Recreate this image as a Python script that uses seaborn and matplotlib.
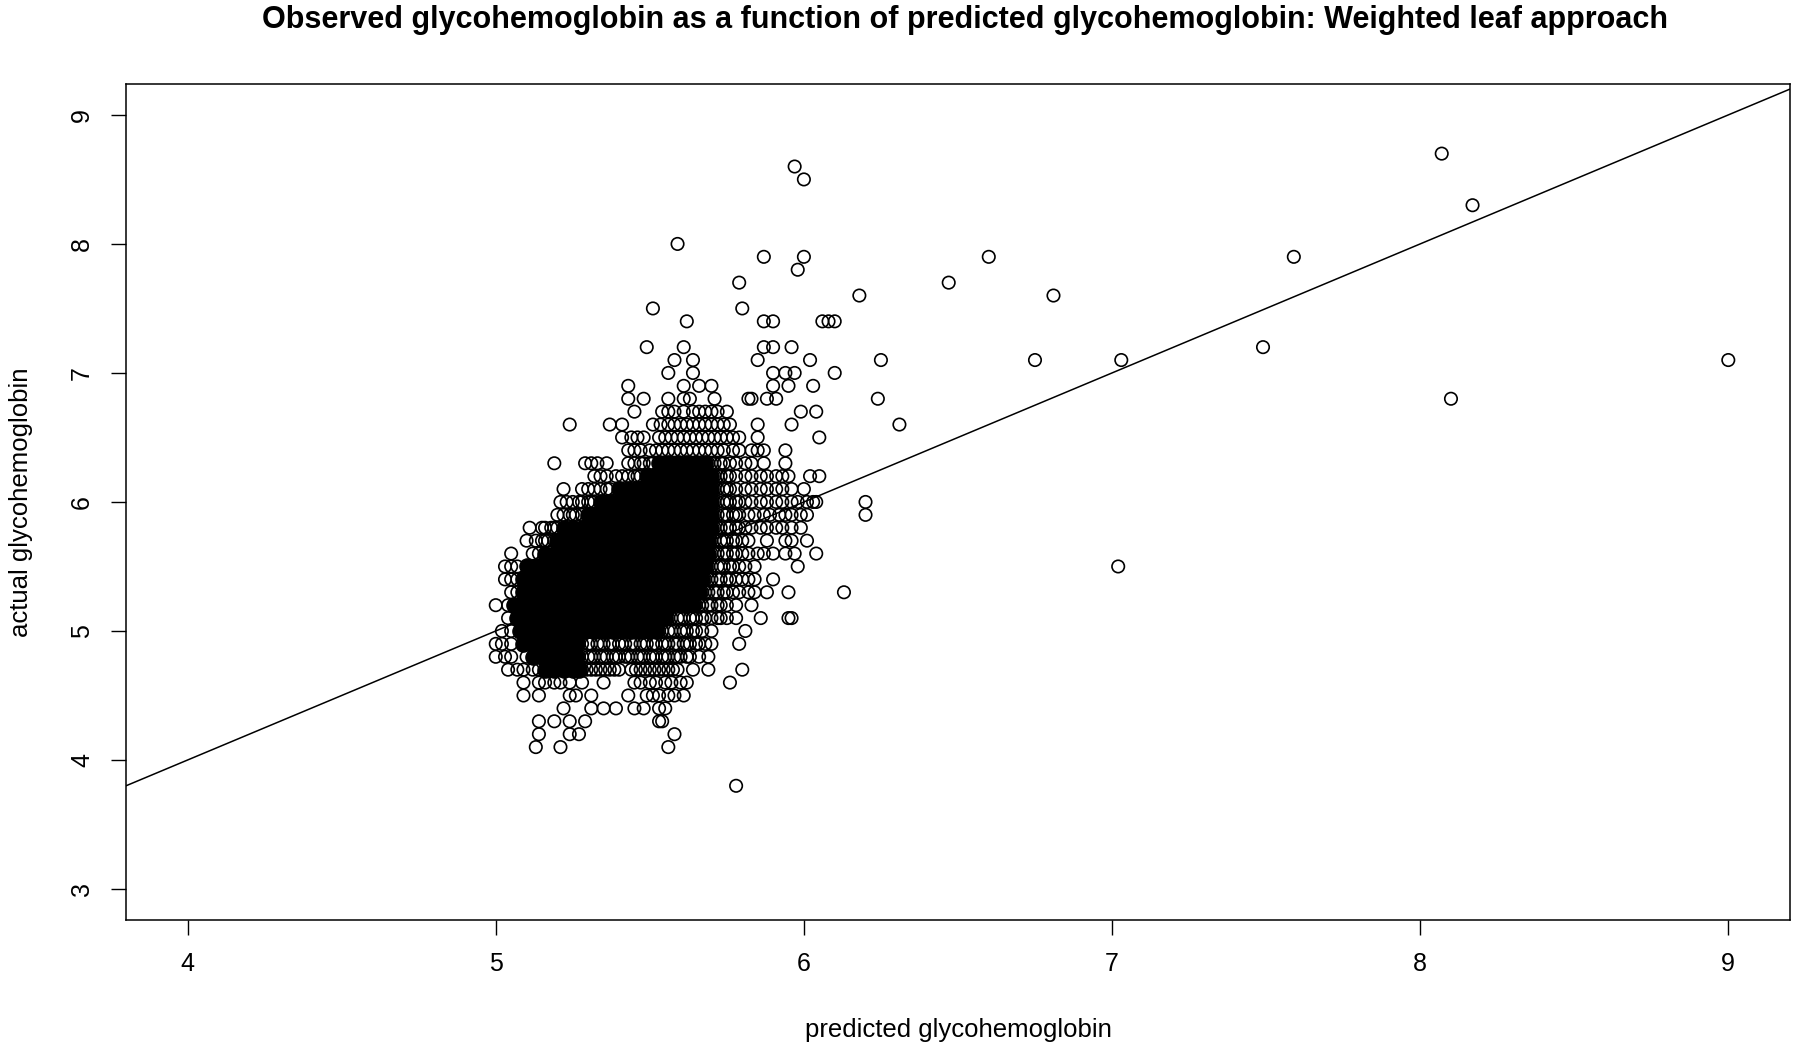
import pandas as pd
import seaborn as sns
import matplotlib
matplotlib.use('Agg')
import matplotlib.pyplot as plt

TITLE = 'Observed glycohemoglobin as a function of predicted glycohemoglobin: Weighted leaf approach'
X_LABEL = 'predicted glycohemoglobin'
Y_LABEL = 'actual glycohemoglobin'

x_ticks = [4, 5, 6, 7, 8, 9]
y_ticks = [3, 4, 5, 6, 7, 8, 9]

# reference line y = x
fit_intercept = 0.0
fit_slope = 1.0

# hollow points, one list per observed level (x = predicted)
r38 = [5.78]
r41 = [5.13, 5.21, 5.56]
r42 = [5.14, 5.24, 5.27, 5.58]
r43 = [5.14, 5.19, 5.24, 5.29, 5.53, 5.54]
r44 = [5.22, 5.31, 5.35, 5.39, 5.45, 5.48, 5.53, 5.55]
r45 = [5.09, 5.14, 5.24, 5.26, 5.31, 5.43, 5.49, 5.51, 5.53, 5.56, 5.58, 5.61]
r46 = [5.09, 5.14, 5.16, 5.19, 5.21, 5.24, 5.28, 5.35, 5.45, 5.47, 5.50, 5.52,
       5.55, 5.57, 5.60, 5.62, 5.76]
r47 = [5.04, 5.07, 5.09, 5.12, 5.14, 5.28, 5.295, 5.31, 5.325, 5.34, 5.355, 5.37,
       5.385, 5.40, 5.44, 5.455, 5.47, 5.485, 5.50, 5.515, 5.53, 5.545, 5.56, 5.575,
       5.59, 5.64, 5.69, 5.80]
r48 = [5.00, 5.03, 5.05, 5.10, 5.27, 5.28, 5.30, 5.31, 5.32, 5.34, 5.35, 5.36,
       5.38, 5.39, 5.40, 5.42, 5.43, 5.44, 5.46, 5.47, 5.48, 5.50, 5.51, 5.52,
       5.54, 5.55, 5.56, 5.58, 5.59, 5.60, 5.62, 5.63, 5.66, 5.69]
r49 = [5.00, 5.02, 5.05, 5.27, 5.28, 5.30, 5.31, 5.33, 5.34, 5.35, 5.37, 5.38,
       5.40, 5.41, 5.42, 5.44, 5.45, 5.47, 5.48, 5.49, 5.51, 5.52, 5.54, 5.55,
       5.56, 5.58, 5.59, 5.61, 5.62, 5.63, 5.65, 5.66, 5.68, 5.70, 5.79]
r50 = [5.02, 5.05, 5.53, 5.54, 5.56, 5.57, 5.58, 5.60, 5.61, 5.62, 5.64, 5.65,
       5.67, 5.70, 5.81]
r51 = [5.04, 5.56, 5.57, 5.59, 5.60, 5.61, 5.63, 5.64, 5.65, 5.67, 5.68, 5.70,
       5.72, 5.73, 5.75, 5.78, 5.86, 5.95, 5.96]
r52 = [5.00, 5.04, 5.65, 5.66, 5.67, 5.69, 5.70, 5.72, 5.73, 5.75, 5.78, 5.83]
r53 = [5.05, 5.07, 5.67, 5.68, 5.69, 5.71, 5.72, 5.74, 5.75, 5.77, 5.79, 5.82,
       5.84, 5.88, 5.95, 6.13]
r54 = [5.03, 5.05, 5.07, 5.68, 5.69, 5.70, 5.72, 5.73, 5.75, 5.76, 5.78, 5.80,
       5.82, 5.84, 5.90]
r55 = [5.03, 5.05, 5.07, 5.69, 5.70, 5.72, 5.73, 5.74, 5.76, 5.77, 5.79, 5.81,
       5.84, 5.98, 7.02]
r56 = [5.05, 5.12, 5.14, 5.70, 5.71, 5.72, 5.74, 5.75, 5.77, 5.78, 5.80, 5.82,
       5.85, 5.87, 5.90, 5.94, 5.97, 6.04]
r57 = [5.10, 5.13, 5.15, 5.16, 5.17, 5.19, 5.70, 5.71, 5.73, 5.74, 5.75, 5.77,
       5.78, 5.80, 5.82, 5.88, 5.94, 5.96, 6.01]
r58 = [5.11, 5.15, 5.16, 5.18, 5.19, 5.20, 5.71, 5.72, 5.73, 5.75, 5.76, 5.78,
       5.79, 5.81, 5.83, 5.86, 5.88, 5.91, 5.93, 5.96, 5.99]
r59 = [5.20, 5.22, 5.24, 5.25, 5.26, 5.28, 5.71, 5.72, 5.74, 5.75, 5.77, 5.78,
       5.79, 5.82, 5.84, 5.87, 5.89, 5.92, 5.94, 5.96, 5.99, 6.01, 6.20]
r60 = [5.21, 5.23, 5.25, 5.27, 5.28, 5.30, 5.31, 5.32, 5.71, 5.72, 5.74, 5.75,
       5.76, 5.78, 5.79, 5.81, 5.83, 5.86, 5.88, 5.91, 5.93, 5.96, 5.98, 6.01,
       6.03, 6.04, 6.20]
r61 = [5.22, 5.28, 5.30, 5.32, 5.34, 5.36, 5.37, 5.71, 5.72, 5.74, 5.75, 5.76,
       5.78, 5.81, 5.83, 5.86, 5.88, 5.91, 5.93, 5.96, 6.00]
r62 = [5.32, 5.34, 5.36, 5.39, 5.41, 5.43, 5.45, 5.46, 5.47, 5.71, 5.72, 5.73,
       5.75, 5.76, 5.78, 5.81, 5.83, 5.86, 5.88, 5.91, 5.93, 5.95, 6.02, 6.05]
r63 = [5.19, 5.29, 5.31, 5.33, 5.36, 5.43, 5.45, 5.47, 5.48, 5.50, 5.51, 5.69,
       5.70, 5.71, 5.73, 5.74, 5.76, 5.78, 5.81, 5.83, 5.87, 5.94]
r64 = [5.43, 5.45, 5.47, 5.50, 5.52, 5.54, 5.56, 5.58, 5.60, 5.62, 5.64, 5.66,
       5.68, 5.70, 5.72, 5.74, 5.77, 5.79, 5.83, 5.85, 5.87, 5.94]
r65 = [5.41, 5.44, 5.46, 5.48, 5.53, 5.55, 5.57, 5.59, 5.61, 5.63, 5.65, 5.67,
       5.69, 5.71, 5.73, 5.75, 5.77, 5.79, 5.85, 6.05]
r66 = [5.24, 5.37, 5.41, 5.51, 5.535, 5.56, 5.58, 5.60, 5.62, 5.64, 5.66, 5.68,
       5.70, 5.72, 5.74, 5.76, 5.85, 5.96, 6.31]
r67 = [5.45, 5.54, 5.56, 5.58, 5.61, 5.64, 5.66, 5.68, 5.70, 5.72, 5.75, 5.99, 6.04]
r68 = [5.43, 5.48, 5.56, 5.61, 5.63, 5.71, 5.82, 5.83, 5.88, 5.91, 6.24, 8.10]
r69 = [5.43, 5.61, 5.66, 5.70, 5.90, 5.95, 6.03]
r70 = [5.56, 5.64, 5.90, 5.94, 5.97, 6.10]
r71 = [5.58, 5.64, 5.85, 6.02, 6.25, 6.75, 7.03, 9.00]
r72 = [5.49, 5.61, 5.87, 5.90, 5.96, 7.49]
r74 = [5.62, 5.87, 5.90, 6.06, 6.08, 6.10]
r75 = [5.51, 5.80]
r76 = [6.18, 6.81]
r77 = [5.79, 6.47]
r78 = [5.98]
r79 = [5.87, 6.00, 6.60, 7.59]
r80 = [5.59]
r83 = [8.17]
r85 = [6.00]
r86 = [5.97]
r87 = [8.07]

# the overplotted core of the cloud (drawn as solid discs)
c47 = [5.16, 5.19, 5.22, 5.25, 5.27]
c48 = [5.12, 5.15, 5.18, 5.21, 5.24, 5.26]
c49 = [5.09, 5.12, 5.15, 5.18, 5.21, 5.24, 5.26]
c50 = [5.08, 5.11, 5.14, 5.17, 5.20, 5.23, 5.26, 5.29, 5.32, 5.35, 5.38, 5.41,
       5.44, 5.47, 5.50, 5.52]
c51 = [5.07, 5.10, 5.13, 5.16, 5.19, 5.22, 5.25, 5.28, 5.31, 5.34, 5.37, 5.40,
       5.43, 5.46, 5.49, 5.52, 5.55]
c52 = [5.06, 5.09, 5.12, 5.15, 5.18, 5.21, 5.24, 5.27, 5.30, 5.33, 5.36, 5.39,
       5.42, 5.45, 5.48, 5.51, 5.54, 5.57, 5.60, 5.62, 5.64]
c53 = [5.09, 5.12, 5.15, 5.18, 5.21, 5.24, 5.27, 5.30, 5.33, 5.36, 5.39, 5.42,
       5.45, 5.48, 5.51, 5.54, 5.57, 5.60, 5.63, 5.66]
c54 = [5.09, 5.12, 5.15, 5.18, 5.21, 5.24, 5.27, 5.30, 5.33, 5.36, 5.39, 5.42,
       5.45, 5.48, 5.51, 5.54, 5.57, 5.60, 5.63, 5.65, 5.67]
c55 = [5.10, 5.13, 5.16, 5.19, 5.22, 5.25, 5.28, 5.31, 5.34, 5.37, 5.40, 5.43,
       5.46, 5.49, 5.52, 5.55, 5.58, 5.61, 5.64, 5.66, 5.68]
c56 = [5.16, 5.19, 5.22, 5.25, 5.28, 5.31, 5.34, 5.37, 5.40, 5.43, 5.46, 5.49,
       5.52, 5.55, 5.58, 5.61, 5.64, 5.67, 5.69]
c57 = [5.20, 5.23, 5.26, 5.29, 5.32, 5.35, 5.38, 5.41, 5.44, 5.47, 5.50, 5.53,
       5.56, 5.59, 5.62, 5.65, 5.67, 5.69]
c58 = [5.22, 5.25, 5.28, 5.30, 5.33, 5.36, 5.39, 5.42, 5.45, 5.48, 5.51, 5.54,
       5.57, 5.60, 5.63, 5.66, 5.68, 5.70]
c59 = [5.30, 5.33, 5.36, 5.39, 5.42, 5.45, 5.48, 5.51, 5.54, 5.57, 5.60, 5.63,
       5.66, 5.68, 5.70]
c60 = [5.34, 5.37, 5.40, 5.43, 5.46, 5.49, 5.52, 5.55, 5.58, 5.61, 5.64, 5.67,
       5.70]
c61 = [5.40, 5.43, 5.46, 5.49, 5.52, 5.55, 5.58, 5.61, 5.64, 5.67, 5.70]
c62 = [5.49, 5.52, 5.55, 5.58, 5.61, 5.64, 5.67, 5.70]
c63 = [5.53, 5.56, 5.59, 5.62, 5.65, 5.68]

ring_rows = {3.8: r38, 4.1: r41, 4.2: r42, 4.3: r43, 4.4: r44, 4.5: r45, 4.6: r46,
             4.7: r47, 4.8: r48, 4.9: r49, 5.0: r50, 5.1: r51, 5.2: r52, 5.3: r53,
             5.4: r54, 5.5: r55, 5.6: r56, 5.7: r57, 5.8: r58, 5.9: r59, 6.0: r60,
             6.1: r61, 6.2: r62, 6.3: r63, 6.4: r64, 6.5: r65, 6.6: r66, 6.7: r67,
             6.8: r68, 6.9: r69, 7.0: r70, 7.1: r71, 7.2: r72, 7.4: r74, 7.5: r75,
             7.6: r76, 7.7: r77, 7.8: r78, 7.9: r79, 8.0: r80, 8.3: r83, 8.5: r85,
             8.6: r86, 8.7: r87}
core_rows = {4.7: c47, 4.8: c48, 4.9: c49, 5.0: c50, 5.1: c51, 5.2: c52, 5.3: c53,
             5.4: c54, 5.5: c55, 5.6: c56, 5.7: c57, 5.8: c58, 5.9: c59, 6.0: c60,
             6.1: c61, 6.2: c62, 6.3: c63}


def to_frame(rows):
    recs = []
    for level, xs in rows.items():
        for x in xs:
            recs.append((x, level))
    return pd.DataFrame(recs, columns=['predicted', 'actual'])


df_ring = to_frame(ring_rows)
df_core = to_frame(core_rows)

sns.set_theme(style='white')
plt.rcParams['font.family'] = ['Liberation Sans', 'DejaVu Sans']

fig = plt.figure(figsize=(18, 10.52), dpi=100)
ax = fig.add_axes([0.07, 0.1255, 0.9244, 0.7947])

sns.scatterplot(data=df_core, x='predicted', y='actual', s=120, color='black',
                edgecolor='black', linewidth=1.0, ax=ax, legend=False)
sns.scatterplot(data=df_ring, x='predicted', y='actual', s=80, facecolor='none',
                edgecolor='black', linewidth=1.2, ax=ax, legend=False)
ax.axline((0, fit_intercept), slope=fit_slope, color='black', lw=1.1)

ax.set_xlim(3.8, 9.2)
ax.set_ylim(2.76, 9.24)
ax.set_xticks(x_ticks)
ax.set_yticks(y_ticks)
ax.tick_params(axis='both', direction='out', length=11, width=1.0, color='black',
               labelsize=18, labelcolor='black', bottom=True, left=True)
ax.tick_params(axis='x', pad=12)
ax.tick_params(axis='y', pad=12)
for lab in ax.get_yticklabels():
    lab.set_rotation(90)
    lab.set_va('center')

for sp in ax.spines.values():
    sp.set_color('black')
    sp.set_linewidth(1.1)

ax.set_xlabel(X_LABEL, fontsize=18.5, color='black', va='center')
ax.xaxis.set_label_coords(0.5, -0.132)
ax.set_ylabel(Y_LABEL, fontsize=18.5, color='black', va='center')
ax.yaxis.set_label_coords(-0.063, 0.5)

fig.text(0.536, 0.981, TITLE, ha='center', va='center', fontsize=22,
         fontweight='bold', color='black')

plt.savefig('out.png', dpi=100)
plt.close()
